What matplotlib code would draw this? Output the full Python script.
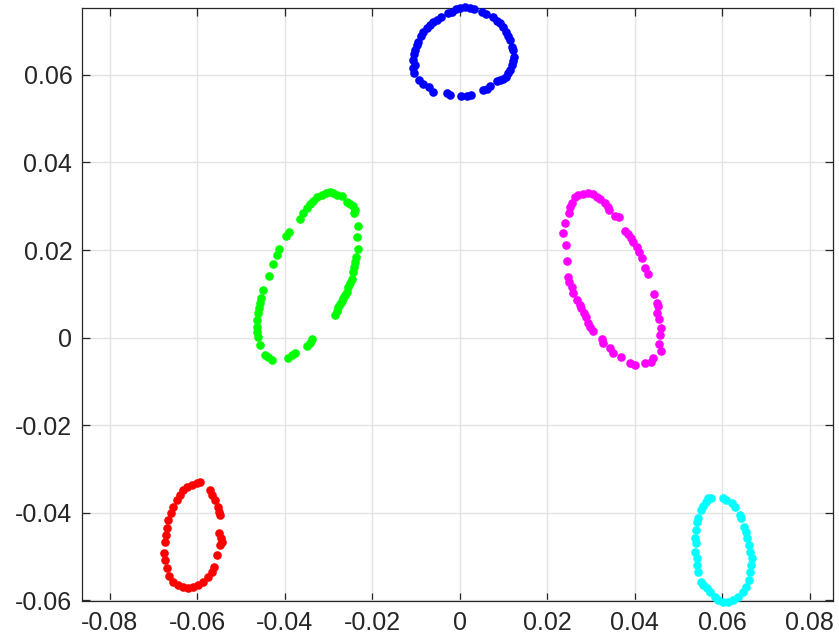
import matplotlib
matplotlib.use('Agg')
import matplotlib.pyplot as plt
import numpy as np

plt.rcParams['font.family'] = ['Liberation Sans', 'DejaVu Sans']

# cluster 1 (top, blue)
blue_x = [-0.00267, -0.00190, -0.00091, 0.0, 0.00114, 0.00229, 0.00320, 0.00495, 0.00594, 0.00762,
          0.00853, 0.00914, 0.00990, 0.01051, 0.01105, 0.01143, 0.01181, 0.01219, 0.01234, 0.01219,
          0.01181, 0.01143, 0.01105, 0.01051, 0.00990, 0.00914, 0.00838, 0.00686, 0.00625, 0.00533,
          0.00244, 0.00152, 0.00015, -0.00229, -0.00305, -0.00610, -0.00701, -0.00853, -0.00930, -0.01051,
          -0.01067, -0.01029, -0.01067, -0.01051, -0.01029, -0.00990, -0.00952, -0.00899, -0.00838, -0.00762,
          -0.00686, -0.00610, -0.00518, -0.00442]
blue_y = [0.0741, 0.0745, 0.0750, 0.0753, 0.0755, 0.0754, 0.0751, 0.0745, 0.0740, 0.0732,
          0.0724, 0.0718, 0.0709, 0.0699, 0.0689, 0.0681, 0.0665, 0.0657, 0.0642, 0.0633,
          0.0623, 0.0611, 0.0604, 0.0595, 0.0590, 0.0589, 0.0586, 0.0575, 0.0569, 0.0566,
          0.0554, 0.0551, 0.0553, 0.0554, 0.0558, 0.0562, 0.0573, 0.0579, 0.0589, 0.0604,
          0.0615, 0.0623, 0.0634, 0.0649, 0.0657, 0.0669, 0.0676, 0.0688, 0.0699, 0.0707,
          0.0714, 0.0720, 0.0726, 0.0732]

# cluster 2 (green)
green_x = [-0.03657, -0.03581, -0.03505, -0.03429, -0.03352, -0.03261, -0.03162, -0.03063, -0.02971, -0.02895,
           -0.02804, -0.02705, -0.02575, -0.02514, -0.02438, -0.02400, -0.02423, -0.02324, -0.02362, -0.02324,
           -0.02377, -0.02400, -0.02423, -0.02438, -0.02476, -0.02514, -0.02552, -0.02590, -0.02629, -0.02667,
           -0.02705, -0.02743, -0.02781, -0.02819, -0.02857, -0.03390, -0.03429, -0.03505, -0.03771, -0.03848,
           -0.03924, -0.04305, -0.04381, -0.04457, -0.04571, -0.04610, -0.04632, -0.04648, -0.04632, -0.04610,
           -0.04587, -0.04571, -0.04556, -0.04510, -0.04358, -0.04267, -0.04190, -0.04130, -0.03977, -0.03901]
green_y = [0.02701, 0.02838, 0.02952, 0.03051, 0.03128, 0.03204, 0.03257, 0.03295, 0.03318, 0.03295,
           0.03257, 0.03234, 0.03105, 0.03051, 0.03006, 0.02914, 0.02838, 0.02549, 0.02290, 0.02015,
           0.01832, 0.01733, 0.01619, 0.01505, 0.01330, 0.01238, 0.01147, 0.01048, 0.00971, 0.00895,
           0.00842, 0.00766, 0.00690, 0.00613, 0.00514, -0.00042, -0.00133, -0.00194, -0.00362, -0.00400,
           -0.00461, -0.00514, -0.00438, -0.00400, -0.00171, 0.00019, 0.00133, 0.00248, 0.00400, 0.00552,
           0.00667, 0.00781, 0.00895, 0.01086, 0.01413, 0.01672, 0.01886, 0.02015, 0.02320, 0.02419]

# cluster 3 (magenta)
magenta_x = [0.02629, 0.02705, 0.02819, 0.02933, 0.03048, 0.03124, 0.03200, 0.03314, 0.03390, 0.03406,
             0.03543, 0.03634, 0.03771, 0.03832, 0.03909, 0.03962, 0.04038, 0.04091, 0.04152, 0.04229,
             0.04305, 0.04442, 0.04495, 0.04518, 0.04495, 0.04549, 0.04594, 0.04571, 0.04549, 0.04594,
             0.04419, 0.04366, 0.04229, 0.04000, 0.03886, 0.03680, 0.03505, 0.03429, 0.03276, 0.03238,
             0.03048, 0.02971, 0.02918, 0.02872, 0.02842, 0.02766, 0.02743, 0.02667, 0.02590, 0.02552,
             0.02491, 0.02461, 0.02438, 0.02415, 0.02362, 0.02400, 0.02491, 0.02514, 0.02552]
magenta_y = [0.03219, 0.03257, 0.03280, 0.03295, 0.03272, 0.03219, 0.03158, 0.03082, 0.02990, 0.02914,
             0.02777, 0.02747, 0.02442, 0.02366, 0.02267, 0.02190, 0.02076, 0.01962, 0.01810, 0.01581,
             0.01451, 0.00994, 0.00781, 0.00720, 0.00568, 0.00415, 0.00225, 0.00057, -0.00149, -0.00301,
             -0.00476, -0.00552, -0.00590, -0.00629, -0.00575, -0.00453, -0.00347, -0.00248, -0.00118, -0.00042,
             0.00156, 0.00248, 0.00324, 0.00461, 0.00552, 0.00667, 0.00743, 0.00857, 0.01010, 0.01147,
             0.01276, 0.01390, 0.01756, 0.02114, 0.02381, 0.02610, 0.02838, 0.02990, 0.03067]

# cluster 4 (bottom left, red)
red_x = [-0.05943, -0.06019, -0.06133, -0.06248, -0.06324, -0.06400, -0.06476, -0.06552, -0.06613, -0.06667,
         -0.06705, -0.06720, -0.06743, -0.06766, -0.06743, -0.06705, -0.06644, -0.06552, -0.06438, -0.06324,
         -0.06210, -0.06095, -0.05981, -0.05867, -0.05752, -0.05676, -0.05623, -0.05562, -0.05714, -0.05676,
         -0.05600, -0.05524, -0.05501, -0.05486, -0.05501, -0.05470, -0.05448, -0.05486]
red_y = [-0.03295, -0.03333, -0.03371, -0.03425, -0.03486, -0.03600, -0.03714, -0.03867, -0.04019, -0.04171,
         -0.04362, -0.04514, -0.04667, -0.04933, -0.05086, -0.05276, -0.05451, -0.05581, -0.05657, -0.05710,
         -0.05733, -0.05710, -0.05657, -0.05581, -0.05467, -0.05352, -0.05238, -0.04971, -0.03486, -0.03600,
         -0.03714, -0.03867, -0.03981, -0.04057, -0.04476, -0.04590, -0.04667, -0.04743]

# cluster 5 (bottom right, cyan)
cyan_x = [0.05676, 0.05752, 0.05615, 0.05562, 0.05509, 0.05448, 0.05410, 0.05387, 0.05371, 0.05387,
          0.05371, 0.05410, 0.05432, 0.05448, 0.05509, 0.05562, 0.05638, 0.05714, 0.05829, 0.05905,
          0.06019, 0.06133, 0.06248, 0.06362, 0.06476, 0.06552, 0.06606, 0.06629, 0.06651, 0.06667,
          0.06629, 0.06606, 0.06575, 0.06530, 0.06499, 0.06438, 0.06400, 0.06286, 0.06210, 0.06095,
          0.06019]
cyan_y = [-0.03661, -0.03676, -0.03752, -0.03844, -0.03943, -0.04133, -0.04210, -0.04400, -0.04590, -0.04705,
          -0.04895, -0.05048, -0.05200, -0.05368, -0.05581, -0.05657, -0.05733, -0.05810, -0.05924, -0.06000,
          -0.06038, -0.06038, -0.06000, -0.05924, -0.05810, -0.05695, -0.05543, -0.05352, -0.05200, -0.05048,
          -0.04895, -0.04743, -0.04590, -0.04438, -0.04324, -0.04133, -0.04057, -0.03867, -0.03790, -0.03714,
          -0.03661]

clusters = [
    (blue_x, blue_y, (0, 0, 1)),
    (green_x, green_y, (0, 1, 0)),
    (magenta_x, magenta_y, (1, 0, 1)),
    (red_x, red_y, (1, 0, 0)),
    (cyan_x, cyan_y, (0, 1, 1)),
]

fig = plt.figure(figsize=(8.39, 6.44), dpi=100)
ax = fig.add_axes([82 / 839, 43 / 644, 751 / 839, 593 / 644])

for cx, cy, col in clusters:
    ax.plot(cx, cy, 'o', color=col, markersize=6.2, markeredgewidth=0, clip_on=False, zorder=3)

ax.set_xlim(-0.0864, 0.0853)
ax.set_ylim(-0.0602, 0.0753)

xt = np.arange(-0.08, 0.0801, 0.02)
yt = np.arange(-0.06, 0.0601, 0.02)
ax.set_xticks(xt)
ax.set_yticks(yt)
ax.set_xticklabels(['-0.08', '-0.06', '-0.04', '-0.02', '0', '0.02', '0.04', '0.06', '0.08'])
ax.set_yticklabels(['-0.06', '-0.04', '-0.02', '0', '0.02', '0.04', '0.06'])

ax.grid(True, color='#e3e3e3', linewidth=1.0, zorder=0)
ax.set_axisbelow(True)
ax.tick_params(direction='in', length=6, width=0.9, colors='#262626', labelsize=18,
               top=True, right=True, pad=7)
for sp in ax.spines.values():
    sp.set_color('#262626')
    sp.set_linewidth(0.9)

plt.savefig('out.png', dpi=100)
